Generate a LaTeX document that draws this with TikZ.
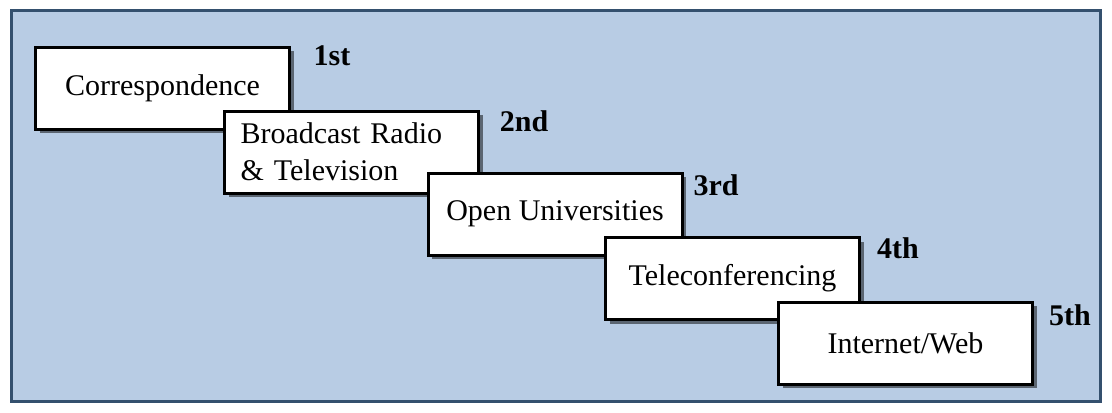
\documentclass[tikz,border=0pt]{standalone}
\usepackage{fontspec}
\setmainfont{Liberation Serif}
\usetikzlibrary{shadows}
\definecolor{panelfill}{HTML}{B8CCE4}
\definecolor{panelline}{HTML}{34506E}
\begin{document}
\begin{tikzpicture}[x=0.5pt,y=-0.5pt,
  stagebox/.style={draw=black, line width=1.5pt, fill=white,
    minimum width=127pt, minimum height=41pt, inner sep=0pt,
    font=\fontsize{15}{18.5}\selectfont,
    drop shadow={shadow xshift=2.2pt, shadow yshift=-2.2pt, fill=black, opacity=0.5}},
  ordinal/.style={font=\fontsize{15}{17}\bfseries, inner sep=0pt}]
  % page and panel
  \useasboundingbox (0,0) rectangle (1112,412);
  \draw[panelline, line width=1.5pt, fill=panelfill] (11.5,10.5) rectangle (1100.5,401.5);
  % stages, each drawn over the one before
  \node[stagebox] (s1) at (162.5,88) {Correspondence};
  \node[stagebox, align=left, text width=111pt, inner xsep=8pt] (s2) at (351.5,152)
    {Broadcast Radio\\ \& Television};
  \node[stagebox] (s3) at (555,214) {Open Universities};
  \node[stagebox] (s4) at (732.5,278.5) {Teleconferencing};
  \node[stagebox] (s5) at (905.5,343) {Internet/Web};
  % ordinals
  \node[ordinal] (o1) at (332,56) {1st};
  \node[ordinal] (o2) at (524,121) {2nd};
  \node[ordinal] (o3) at (716,185) {3rd};
  \node[ordinal] (o4) at (898,248) {4th};
  \node[ordinal] (o5) at (1070,315) {5th};
\end{tikzpicture}
\end{document}
